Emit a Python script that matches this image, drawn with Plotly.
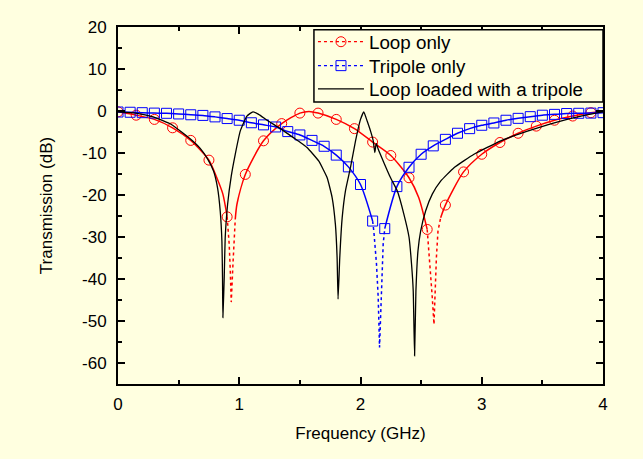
import plotly.graph_objects as go

# ---------------- data ----------------
loop_f = [0.00, 0.15, 0.30, 0.45, 0.60, 0.75, 0.815, 0.865, 0.90, 0.917, 0.926, 0.934,
          0.948, 0.959, 0.967, 0.981, 1.05, 1.20, 1.35, 1.50, 1.575, 1.65, 1.80, 1.95,
          2.10, 2.25, 2.40, 2.48, 2.55, 2.573, 2.592, 2.606, 2.614, 2.626, 2.639, 2.661,
          2.70, 2.85, 3.00, 3.15, 3.30, 3.45, 3.60, 3.75, 3.90, 4.00]
loop_db = [-0.2, -1.0, -2.0, -4.0, -7.0, -11.7, -15.9, -19.8, -25.2, -31.7, -38.0, -45.5,
           -36.5, -29.3, -25.8, -22.2, -15.1, -7.1, -3.0, -0.5, -0.1, -0.5, -2.0, -4.2,
           -7.4, -10.6, -15.9, -20.6, -28.2, -36.5, -44.4, -50.8, -42.9, -34.9, -28.6, -25.4,
           -22.4, -14.5, -10.3, -7.5, -5.3, -3.6, -2.2, -1.2, -0.4, -0.1]
loop_mk_f = [0.00, 0.15, 0.30, 0.45, 0.60, 0.75, 0.90, 1.05, 1.20, 1.35, 1.50, 1.65, 1.80,
             1.95, 2.10, 2.25, 2.40, 2.55, 2.70, 2.85, 3.00, 3.15, 3.30, 3.45, 3.60, 3.75, 3.90]
loop_mk_db = [-0.2, -1.0, -2.0, -4.0, -7.0, -11.7, -25.2, -15.1, -7.1, -3.0, -0.5, -0.5, -2.0,
              -4.2, -7.4, -10.6, -15.9, -28.2, -22.4, -14.5, -10.3, -7.5, -5.3, -3.6, -2.2, -1.2, -0.4]

trip_f = [0.0, 0.1, 0.2, 0.3, 0.4, 0.5, 0.6, 0.7, 0.8, 0.9, 1.0, 1.1, 1.2, 1.3, 1.4, 1.5,
          1.6, 1.7, 1.8, 1.9, 2.0, 2.1, 2.11, 2.132, 2.146, 2.157, 2.168, 2.176, 2.187, 2.2,
          2.3, 2.4, 2.5, 2.6, 2.7, 2.8, 2.9, 3.0, 3.1, 3.2, 3.3, 3.4, 3.5, 3.6, 3.7, 3.8, 3.9, 4.0]
trip_db = [-0.24, -0.3, -0.4, -0.5, -0.55, -0.7, -0.9, -1.05, -1.4, -1.8, -2.2, -2.8, -3.3,
           -3.8, -4.9, -5.7, -7.0, -8.4, -10.5, -13.3, -17.5, -26.2, -28.6, -36.5, -44.4, -56.3,
           -46.0, -38.0, -31.7, -28.0, -18.0, -13.4, -10.3, -8.3, -6.75, -5.3, -4.2, -3.4, -2.85,
           -2.2, -1.75, -1.35, -1.0, -0.8, -0.6, -0.55, -0.5, -0.4]
trip_mk_f = [0.0, 0.1, 0.2, 0.3, 0.4, 0.5, 0.6, 0.7, 0.8, 0.9, 1.0, 1.1, 1.2, 1.3, 1.4, 1.5,
             1.6, 1.7, 1.8, 1.9, 2.0, 2.1, 2.2, 2.3, 2.4, 2.5, 2.6, 2.7, 2.8, 2.9, 3.0, 3.1,
             3.2, 3.3, 3.4, 3.5, 3.6, 3.7, 3.8, 3.9, 4.0]
trip_mk_db = [-0.24, -0.3, -0.4, -0.5, -0.55, -0.7, -0.9, -1.05, -1.4, -1.8, -2.2, -2.8, -3.3,
              -3.8, -4.9, -5.7, -7.0, -8.4, -10.5, -13.3, -17.5, -26.2, -28.0, -18.0, -13.4,
              -10.3, -8.3, -6.75, -5.3, -4.2, -3.4, -2.85, -2.2, -1.75, -1.35, -1.0, -0.8,
              -0.6, -0.55, -0.5, -0.4]

loaded_f = [0.0, 0.146, 0.29, 0.44, 0.595, 0.678, 0.741, 0.788, 0.821, 0.843, 0.857, 0.862,
            0.865, 0.876, 0.884, 0.904, 0.934, 0.967, 1.008, 1.063, 1.113, 1.16, 1.229, 1.339,
            1.449, 1.504, 1.559, 1.655, 1.725, 1.766, 1.793, 1.807, 1.815, 1.829, 1.849, 1.876,
            1.917, 1.959, 2.0, 2.027, 2.055, 2.083, 2.105, 2.118, 2.13, 2.145, 2.193, 2.248,
            2.303, 2.358, 2.4, 2.421, 2.435, 2.446, 2.457, 2.474, 2.496, 2.537, 2.592, 2.661,
            2.771, 2.936, 3.157, 3.377, 3.598, 3.818, 4.0]
loaded_db = [-0.2, -0.5, -1.4, -3.2, -6.6, -8.9, -11.5, -14.3, -18.3, -23.8, -31.0, -39.7,
             -49.2, -39.7, -30.2, -22.2, -15.5, -10.3, -4.8, -1.2, -0.2, -0.8, -2.2, -4.2,
             -6.4, -7.5, -8.7, -11.9, -15.9, -20.6, -27.0, -34.9, -44.8, -34.9, -25.4, -19.0,
             -13.5, -7.1, -2.0, -0.2, -2.4, -4.8, -7.1, -9.9, -7.7, -9.0, -12.3, -15.9,
             -19.0, -24.6, -30.0, -36.5, -42.9, -58.3, -42.9, -33.3, -28.6, -23.8, -19.8, -16.7,
             -13.5, -10.3, -7.1, -4.8, -2.8, -1.2, -0.2]

names = ["Loop only", "Tripole only", "Loop loaded with a tripole"]
x_ticks = [0, 1, 2, 3, 4]
y_ticks = [-60, -50, -40, -30, -20, -10, 0, 10, 20]

BG = "#FFFFE0"
FONT = "Liberation Sans, Arial, sans-serif"
DASH_BELOW = -28.5


def split_runs(fs, ys, thr):
    """Split a curve into solid runs and dashed (deep-dip) runs."""
    solid_x, solid_y, dash_x, dash_y = [], [], [], []
    cur_style, run_x, run_y = None, [], []

    def flush():
        if run_x:
            if cur_style == "dash":
                dash_x.extend(run_x + [None]); dash_y.extend(run_y + [None])
            else:
                solid_x.extend(run_x + [None]); solid_y.extend(run_y + [None])

    for i in range(len(fs) - 1):
        style = "dash" if min(ys[i], ys[i + 1]) < thr else "solid"
        if style != cur_style:
            flush()
            cur_style, run_x, run_y = style, [fs[i]], [ys[i]]
        run_x.append(fs[i + 1]); run_y.append(ys[i + 1])
    flush()
    return solid_x, solid_y, dash_x, dash_y


fig = go.Figure()

# legend-only entries (one small legend per row so rows can sit tightly)
fig.add_trace(go.Scatter(x=[None], y=[None], name=names[0], mode="lines+markers", legend="legend",
                         line=dict(color="red", width=1.3, dash="3px,3px"),
                         marker=dict(symbol="circle-open", size=10, color="red", line=dict(width=1))))
fig.add_trace(go.Scatter(x=[None], y=[None], name=names[1], mode="lines+markers", legend="legend2",
                         line=dict(color="blue", width=1.3, dash="3px,3px"),
                         marker=dict(symbol="square-open", size=10, color="blue", line=dict(width=1))))
fig.add_trace(go.Scatter(x=[None], y=[None], name=names[2], mode="lines", legend="legend3",
                         line=dict(color="black", width=1.3)))

for fs, ys, mf, my, color, sym in [
    (loop_f, loop_db, loop_mk_f, loop_mk_db, "red", "circle-open"),
    (trip_f, trip_db, trip_mk_f, trip_mk_db, "blue", "square-open"),
]:
    sx, sy, dx, dy = split_runs(fs, ys, DASH_BELOW)
    fig.add_trace(go.Scatter(x=sx, y=sy, mode="lines", showlegend=False,
                             line=dict(color=color, width=1.5, shape="spline", smoothing=0.7)))
    fig.add_trace(go.Scatter(x=dx, y=dy, mode="lines", showlegend=False,
                             line=dict(color=color, width=1.5, dash="3px,3px")))
    fig.add_trace(go.Scatter(x=mf, y=my, mode="markers", showlegend=False,
                             marker=dict(symbol=sym, size=10, color=color, line=dict(width=1))))

fig.add_trace(go.Scatter(x=loaded_f, y=loaded_db, mode="lines", showlegend=False,
                         line=dict(color="black", width=1.3, shape="spline", smoothing=0.4)))

axis_common = dict(showline=True, linecolor="black", linewidth=2, mirror="ticks",
                   ticks="inside", tickcolor="black", tickwidth=1.5, ticklen=7,
                   showgrid=False, zeroline=False,
                   tickfont=dict(family=FONT, size=17, color="black"),
                   minor=dict(ticks="inside", ticklen=4, tickcolor="black", tickwidth=1.5))

fig.update_xaxes(**axis_common, range=[0, 4], tickvals=x_ticks,
                 ticktext=[str(v) for v in x_ticks],
                 title=dict(text="Frequency (GHz)", font=dict(family=FONT, size=17, color="black"),
                            standoff=14))
fig.update_xaxes(minor_dtick=0.5, ticklabelstandoff=4)
fig.update_yaxes(**axis_common, range=[-65, 20], tickvals=y_ticks,
                 ticktext=[str(v) for v in y_ticks],
                 title=dict(text="Transmission (dB)", font=dict(family=FONT, size=17, color="black"),
                            standoff=25))
fig.update_yaxes(minor_dtick=5, ticklabelstandoff=6)

# legend frame (drawn above the curves, below the legend entries)
fig.add_shape(type="rect", xref="paper", yref="paper", x0=0.404, x1=1.0, y0=0.79, y1=0.992,
              fillcolor=BG, line=dict(color="black", width=1.5), layer="above")

legend_style = dict(bgcolor="rgba(0,0,0,0)", borderwidth=0, itemwidth=46,
                    font=dict(family=FONT, size=18.8, color="black"),
                    xanchor="left", yanchor="middle", x=0.402)
row_y = [0.958, 0.891, 0.826]
fig.update_layout(
    width=643, height=459,
    margin=dict(l=118, r=40, t=27, b=75),
    paper_bgcolor=BG, plot_bgcolor=BG,
    font=dict(family=FONT, size=17, color="black"),
    legend=dict(**legend_style, y=row_y[0]),
    legend2=dict(**legend_style, y=row_y[1]),
    legend3=dict(**legend_style, y=row_y[2]),
)

fig.write_html("out.html", config={"displayModeBar": False},
               post_script="document.body.style.margin='0';document.body.style.background='%s';" % BG)
